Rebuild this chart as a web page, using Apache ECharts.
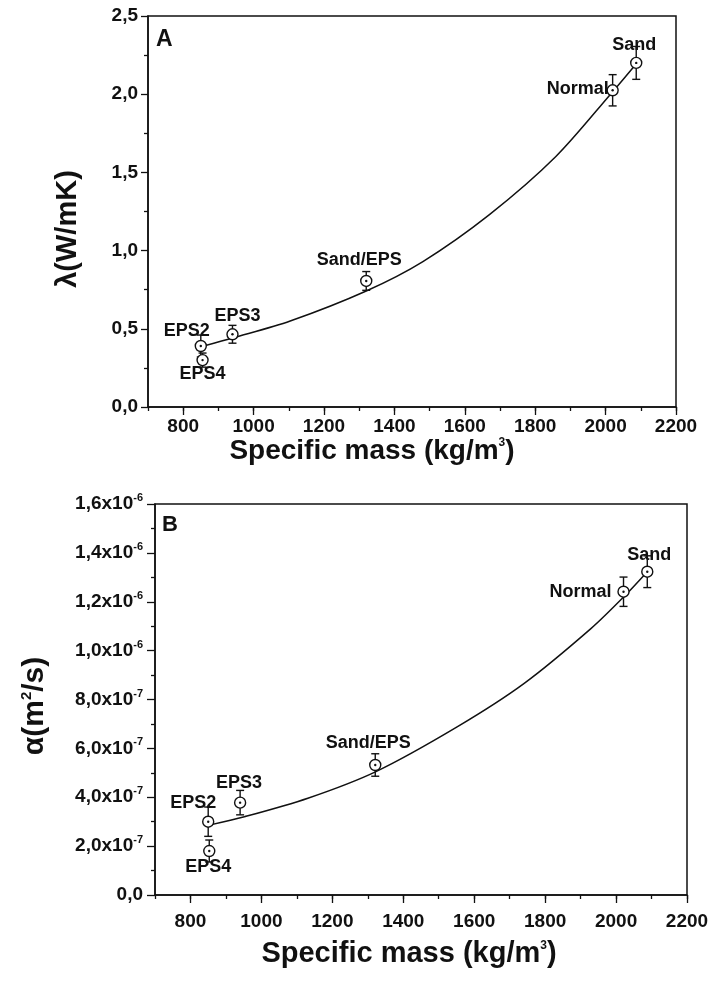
<!DOCTYPE html>
<html>
<head>
<meta charset="utf-8">
<script src="https://cdn.jsdelivr.net/npm/echarts@6/dist/echarts.min.js"></script>
<style>
html,body{margin:0;padding:0;background:#fff;}
#c{width:725px;height:983px;}
</style>
</head>
<body>
<div id="c"></div>
<script>
// ---------- data ----------
const sampleNames = ['EPS2', 'EPS4', 'EPS3', 'Sand/EPS', 'Normal', 'Sand'];

// Panel A : thermal conductivity
const massA = [850, 855, 940, 1320, 2020, 2087];
const lambdaVal = [0.39, 0.30, 0.465, 0.806, 2.025, 2.20];
const lambdaErr = [0.07, 0.045, 0.057, 0.06, 0.10, 0.105];
const fitMassA = [858, 943, 1104, 1320, 1481, 1670, 1858, 2014, 2089];
const fitLambda = [0.39, 0.443, 0.55, 0.742, 0.93, 1.23, 1.60, 2.00, 2.20];

// Panel B : thermal diffusivity
const massB = [850, 853, 940, 1321, 2021, 2088];
const alphaVal = [3.0e-7, 1.8e-7, 3.78e-7, 5.32e-7, 1.241e-6, 1.323e-6];
const alphaErr = [0.6e-7, 0.45e-7, 0.5e-7, 0.46e-7, 0.6e-7, 0.65e-7];
const fitMassB = [853, 952, 1131, 1323, 1553, 1741, 1929, 2023, 2088];
const fitAlpha = [2.86e-7, 3.20e-7, 3.96e-7, 5.05e-7, 6.89e-7, 8.66e-7, 1.09e-6, 1.222e-6, 1.323e-6];

const xTickLabels = [800, 1000, 1200, 1400, 1600, 1800, 2000, 2200];

// ---------- styling / layout (not data) ----------
const labelOffsetA = [[-14, -15], [0, 14], [5, -18], [-7, -21], [-35, -1], [-2, -18]];
const labelOffsetB = [[-15, -19], [-1, 16], [-1, -20], [-7, -22], [-43, 0], [2, -17]];
const INK = '#111';
const FONT = 'Liberation Sans, Arial, sans-serif';

const chart = echarts.init(document.getElementById('c'), null, {renderer: 'canvas'});

function errBarSeries(xi, yi, mass, val, err) {
  return {
    type: 'custom',
    xAxisIndex: xi, yAxisIndex: yi,
    z: 3,
    encode: {x: 0, y: [1, 2]},
    data: mass.map((m, i) => [m, val[i] - err[i], val[i] + err[i]]),
    renderItem: function (params, api) {
      const x = api.value(0);
      const top = api.coord([x, api.value(2)]);
      const bot = api.coord([x, api.value(1)]);
      const w = 4;
      const st = {stroke: INK, lineWidth: 1.4};
      return {
        type: 'group',
        children: [
          {type: 'line', shape: {x1: top[0], y1: top[1], x2: bot[0], y2: bot[1]}, style: st},
          {type: 'line', shape: {x1: top[0] - w, y1: top[1], x2: top[0] + w, y2: top[1]}, style: st},
          {type: 'line', shape: {x1: bot[0] - w, y1: bot[1], x2: bot[0] + w, y2: bot[1]}, style: st}
        ]
      };
    }
  };
}

function pointSeries(xi, yi, mass, val, offsets) {
  return {
    type: 'scatter',
    xAxisIndex: xi, yAxisIndex: yi,
    z: 4,
    symbol: 'circle',
    symbolSize: 11,
    itemStyle: {color: '#fff', borderColor: '#111', borderWidth: 1.4, opacity: 1},
    label: {
      show: true, position: 'inside', formatter: '{b}',
      color: INK, fontFamily: FONT, fontWeight: 'bold', fontSize: 18,
      textBorderWidth: 0, textBorderColor: 'transparent', opacity: 1
    },
    data: mass.map((m, i) => ({name: sampleNames[i], value: [m, val[i]], label: {offset: offsets[i]}}))
  };
}

function dotSeries(xi, yi, mass, val) {
  return {
    type: 'scatter', xAxisIndex: xi, yAxisIndex: yi, z: 5,
    symbol: 'circle', symbolSize: 2.4, itemStyle: {color: '#111', opacity: 1},
    data: mass.map((m, i) => [m, val[i]])
  };
}

function fitSeries(xi, yi, xs, ys) {
  return {
    type: 'line', xAxisIndex: xi, yAxisIndex: yi, z: 2,
    smooth: 0.3, showSymbol: false, symbol: 'none',
    lineStyle: {color: INK, width: 1.5},
    data: xs.map((x, i) => [x, ys[i]])
  };
}

function minorX(grid) {
  return {
    gridIndex: grid, type: 'value', position: 'bottom', offset: 0,
    min: 700, max: 2200, interval: 100,
    axisLine: {show: true, lineStyle: {color: INK, width: 1.5}},
    axisTick: {show: true, length: 4, lineStyle: {color: INK, width: 1.3}},
    axisLabel: {show: false},
    splitLine: {show: false}
  };
}
function majorX(grid, labelMargin, nameGap, namePad, nameSize) {
  return {
    gridIndex: grid, type: 'value', position: 'bottom', offset: 0,
    min: 700, max: 2200,
    axisLine: {show: false},
    axisTick: {show: true, customValues: xTickLabels, length: 8, lineStyle: {color: INK, width: 1.3}},
    axisLabel: {show: true, customValues: xTickLabels, margin: labelMargin,
      formatter: v => String(Math.round(v)),
      color: INK, fontFamily: FONT, fontWeight: 'bold', fontSize: 19},
    splitLine: {show: false},
    name: 'Specific mass (kg/m{s|3})',
    nameLocation: 'middle', nameGap: nameGap,
    nameTextStyle: {
      color: INK, fontFamily: FONT, fontWeight: 'bold', fontSize: nameSize,
      padding: namePad,
      rich: {s: {fontFamily: FONT, fontWeight: 'bold', fontSize: 12, color: INK, padding: [0, 0, 16, 0]}}
    }
  };
}

const option = {
  backgroundColor: '#fff',
  animation: false,
  grid: [
    {left: 148, top: 16, width: 528, height: 391, show: true, borderColor: INK, borderWidth: 1.5, backgroundColor: 'transparent'},
    {left: 155, top: 504, width: 532, height: 391, show: true, borderColor: INK, borderWidth: 1.5, backgroundColor: 'transparent'}
  ],
  xAxis: [
    minorX(0),
    majorX(0, 10, 28, [0, 80, 0, 0], 28),
    minorX(1),
    majorX(1, 17, 44, [0, 24, 0, 0], 29)
  ],
  yAxis: [
    {
      gridIndex: 0, type: 'value', min: 0, max: 2.5, interval: 0.5,
      axisLine: {show: true, lineStyle: {color: INK, width: 1.5}},
      axisTick: {show: true, length: 7, lineStyle: {color: INK, width: 1.3}},
      minorTick: {show: true, splitNumber: 2, length: 4, lineStyle: {color: INK, width: 1.3}},
      splitLine: {show: false},
      axisLabel: {margin: 10, color: INK, fontFamily: FONT, fontWeight: 'bold', fontSize: 19,
        formatter: v => v.toFixed(1).replace('.', ',')},
      name: 'λ(W/mK)', nameLocation: 'middle', nameGap: 66,
      nameTextStyle: {color: INK, fontFamily: FONT, fontWeight: 'bold', fontSize: 29, padding: [0, 35, 0, 0]}
    },
    {
      gridIndex: 1, type: 'value', min: 0, max: 1.6e-6, interval: 2e-7,
      axisLine: {show: true, lineStyle: {color: INK, width: 1.5}},
      axisTick: {show: true, length: 8, lineStyle: {color: INK, width: 1.3}},
      minorTick: {show: true, splitNumber: 2, length: 4, lineStyle: {color: INK, width: 1.3}},
      splitLine: {show: false},
      axisLabel: {margin: 12, color: INK, fontFamily: FONT, fontWeight: 'bold', fontSize: 19,
        formatter: function (v) {
          if (Math.abs(v) < 1e-12) return '0,0';
          const e = v >= 0.99e-6 ? -6 : -7;
          const m = (v / Math.pow(10, e)).toFixed(1).replace('.', ',');
          return m + 'x10{s|' + e + '}';
        },
        rich: {s: {fontFamily: FONT, fontWeight: 'bold', fontSize: 11, color: INK, padding: [0, 0, 12, 0]}}
      },
      name: 'α(m{s|2}/s)', nameLocation: 'middle', nameGap: 105,
      nameTextStyle: {color: INK, fontFamily: FONT, fontWeight: 'bold', fontSize: 30, padding: [0, 13, 0, 0],
        rich: {s: {fontFamily: FONT, fontWeight: 'bold', fontSize: 15, color: INK, padding: [0, 0, 16, 0]}}}
    }
  ],
  graphic: [
    {type: 'text', left: 156, top: 28, style: {text: 'A', font: 'bold 23px ' + FONT, fill: INK}},
    {type: 'text', left: 162, top: 514, style: {text: 'B', font: 'bold 22px ' + FONT, fill: INK}}
  ],
  series: [
    fitSeries(0, 0, fitMassA, fitLambda),
    errBarSeries(0, 0, massA, lambdaVal, lambdaErr),
    pointSeries(0, 0, massA, lambdaVal, labelOffsetA),
    dotSeries(0, 0, massA, lambdaVal),
    fitSeries(2, 1, fitMassB, fitAlpha),
    errBarSeries(2, 1, massB, alphaVal, alphaErr),
    pointSeries(2, 1, massB, alphaVal, labelOffsetB),
    dotSeries(2, 1, massB, alphaVal)
  ]
};
chart.setOption(option);
</script>
</body>
</html>
